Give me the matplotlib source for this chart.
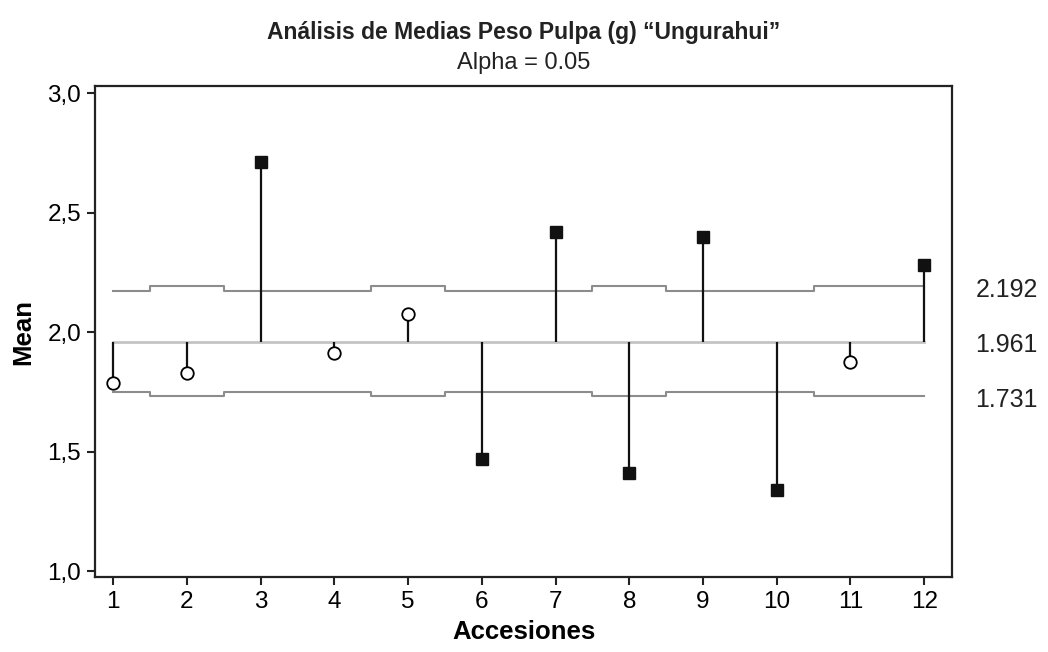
import numpy as np
import matplotlib
matplotlib.use("Agg")
import matplotlib.pyplot as plt
from matplotlib import font_manager

# pick a narrow font if there is one
names = {f.name for f in font_manager.fontManager.ttflist}
FONT = ["Liberation Sans Narrow", "Liberation Sans", "DejaVu Sans"]
FONT = [f for f in FONT if f in names] or ["DejaVu Sans"]
plt.rcParams["font.family"] = FONT

accesiones = np.arange(1, 13)
medias = [1.789, 1.831, 2.713, 1.914, 2.076, 1.470, 2.420, 1.409, 2.398, 1.339, 1.874, 2.282]
lsd = [2.171, 2.192, 2.171, 2.171, 2.192, 2.171, 2.171, 2.192, 2.171, 2.171, 2.192, 2.192]
lid = [1.751, 1.731, 1.751, 1.751, 1.731, 1.751, 1.751, 1.731, 1.751, 1.751, 1.731, 1.731]
centro = 1.961
etiquetas_der = ["2.192", "1.961", "1.731"]
valores_der = [2.192, 1.961, 1.731]
yticks = [1.0, 1.5, 2.0, 2.5, 3.0]
ytick_labels = ["1,0", "1,5", "2,0", "2,5", "3,0"]

fig = plt.figure(figsize=(10.48, 6.52), dpi=100)
ax = fig.add_axes([0.0906, 0.115, 0.818, 0.753])

# decision limits and center line
ax.step(accesiones, lsd, where="mid", color="#8c8c8c", lw=1.5, zorder=1)
ax.step(accesiones, lid, where="mid", color="#8c8c8c", lw=1.5, zorder=1)
ax.plot([accesiones[0], accesiones[-1]], [centro, centro], color="#c4c4c4", lw=2, zorder=1)

# stems and points
ax.vlines(accesiones, centro, medias, color="#111111", lw=1.6, zorder=2)
medias = np.array(medias)
fuera = (medias > np.array(lsd)) | (medias < np.array(lid))
ax.plot(accesiones[~fuera], medias[~fuera], "o", ms=9, mfc="white", mec="black",
        mew=1.3, zorder=3)
ax.plot(accesiones[fuera], medias[fuera], "s", ms=9, mfc="#111111", mec="#111111",
        zorder=3)

ax.set_xlim(0.752, 12.38)
ax.set_ylim(0.975, 3.031)
ax.set_xticks(accesiones)
ax.set_xticklabels([str(a) for a in accesiones], fontsize=17.5)
ax.set_yticks(yticks)
ax.set_yticklabels(ytick_labels, fontsize=17.5)
ax.tick_params(direction="out", length=6, width=1.5, color="#222222", pad=4)
for s in ax.spines.values():
    s.set_linewidth(1.6)
    s.set_color("#222222")

ax.set_xlabel("Accesiones", fontsize=18.5, fontweight="bold", labelpad=5)
ax.set_ylabel("Mean", fontsize=18.5, fontweight="bold", labelpad=9)

for txt, v in zip(etiquetas_der, valores_der):
    ax.text(1.027, v - 0.015, txt, transform=ax.get_yaxis_transform(), fontsize=18,
            va="center", ha="left", color="#222222")

fig.text(0.4995, 0.950, "Análisis de Medias Peso Pulpa (g) \u201cUngurahui\u201d",
         ha="center", va="center", fontsize=16.5, fontweight="bold", color="#222222")
fig.text(0.4995, 0.903, "Alpha = 0.05", ha="center", va="center", fontsize=17,
         color="#222222")

fig.savefig("out.png", dpi=100)
